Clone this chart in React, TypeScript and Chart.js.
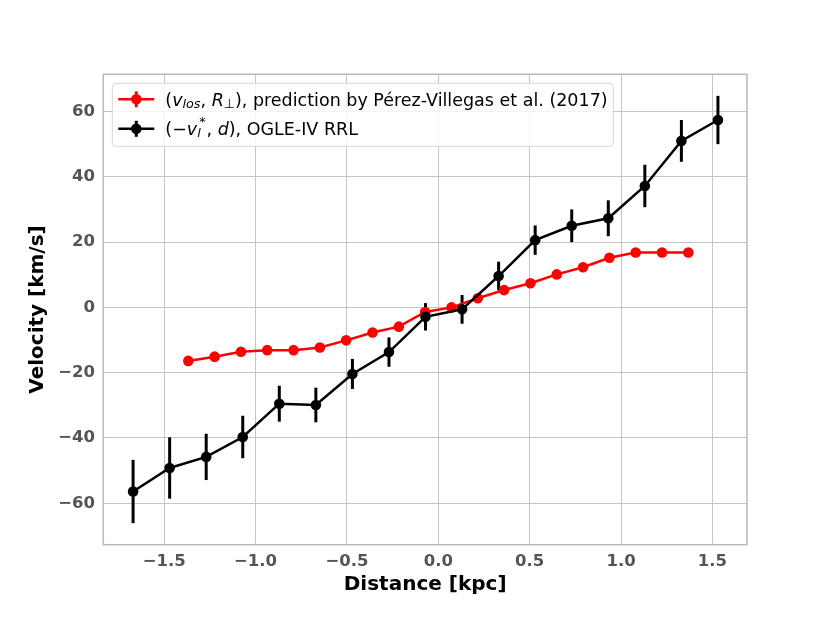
import { useEffect, useRef } from "react"
import { Chart, registerables, Plugin } from "chart.js"

Chart.register(...registerables)

// OGLE-IV RRL, (-v_l*, d)
const rrlDistance = [-1.67, -1.47, -1.27, -1.07, -0.87, -0.67, -0.47, -0.27, -0.07, 0.13, 0.33, 0.53, 0.73, 0.93, 1.13, 1.33, 1.53]
const rrlVelocity = [-56.4, -49.2, -45.8, -39.7, -29.5, -29.9, -20.4, -13.7, -2.9, -0.6, 9.6, 20.6, 25.0, 27.3, 37.2, 51.0, 57.4]
const rrlError = [9.7, 9.4, 7.1, 6.5, 5.5, 5.3, 4.6, 4.5, 4.2, 4.4, 4.4, 4.5, 5.0, 5.5, 6.5, 6.4, 7.4]

// Pérez-Villegas et al. (2017) prediction, (v_los, R_perp)
const modelDistance = [-1.368, -1.224, -1.08, -0.936, -0.792, -0.648, -0.504, -0.36, -0.216, -0.072, 0.072, 0.216, 0.36, 0.504, 0.648, 0.792, 0.936, 1.08, 1.224, 1.368]
const modelVelocity = [-16.4, -15.1, -13.6, -13.1, -13.1, -12.3, -10.1, -7.7, -5.9, -1.4, 0.0, 2.8, 5.3, 7.4, 10.1, 12.3, 15.2, 16.8, 16.8, 16.8]

const xRange = [-1.833, 1.689]
const yRange = [-72.7, 71.4]

const FONT = "'DejaVu Sans'"
const GRID = "#c4c4c4"

const minus = (s: string) => s.replace("-", "\u2212")

type Run = { t: string; italic?: boolean; size?: number; dy?: number; sup?: string; supDy?: number }

function drawRuns(ctx: CanvasRenderingContext2D, x: number, y: number, runs: Run[], base: number) {
  let cx = x
  for (const r of runs) {
    const size = r.size ?? base
    ctx.font = `${r.italic ? "italic " : ""}${size}px ${FONT}`
    ctx.fillText(r.t, cx, y + (r.dy ?? 0))
    let w = ctx.measureText(r.t).width
    if (r.sup) {
      ctx.font = `${size}px ${FONT}`
      ctx.fillText(r.sup, cx + 2, y + (r.supDy ?? -6))
      w = Math.max(w, ctx.measureText(r.sup).width + 3)
    }
    cx += w
  }
}

const legendRows: { color: string; runs: Run[] }[] = [
  {
    color: "#ff0000",
    runs: [
      { t: "(" },
      { t: "v", italic: true },
      { t: "los", italic: true, size: 12.8, dy: 2.5 },
      { t: ", " },
      { t: "R", italic: true },
      { t: "\u22a5", size: 12.8, dy: 2.5 },
      { t: ")" },
      { t: ", prediction by Pérez-Villegas et al. (2017)" },
    ],
  },
  {
    color: "#000000",
    runs: [
      { t: "(" },
      { t: "\u2212" },
      { t: "v", italic: true },
      { t: "l", italic: true, size: 12.8, dy: 2, sup: "*", supDy: -9 },
      { t: ", " },
      { t: "d", italic: true },
      { t: ")" },
      { t: ", OGLE-IV RRL" },
    ],
  },
]

const errorBars: Plugin<"line"> = {
  id: "errorBars",
  beforeDatasetsDraw(chart) {
    const { ctx, scales } = chart
    ctx.save()
    ctx.strokeStyle = "#000000"
    ctx.lineWidth = 3
    rrlDistance.forEach((d, i) => {
      const px = scales.x.getPixelForValue(d)
      ctx.beginPath()
      ctx.moveTo(px, scales.y.getPixelForValue(rrlVelocity[i] - rrlError[i]))
      ctx.lineTo(px, scales.y.getPixelForValue(rrlVelocity[i] + rrlError[i]))
      ctx.stroke()
    })
    ctx.restore()
  },
}

const frameAndLegend: Plugin<"line"> = {
  id: "frameAndLegend",
  afterDraw(chart) {
    const { ctx, chartArea: a } = chart
    ctx.save()
    ctx.strokeStyle = "#b8b8b8"
    ctx.lineWidth = 1.5
    ctx.strokeRect(a.left, a.top, a.right - a.left, a.bottom - a.top)

    // legend box
    const bx = a.left + 9
    const by = a.top + 9
    const bw = 501
    const bh = 63
    ctx.beginPath()
    ctx.roundRect(bx, by, bw, bh, 4)
    ctx.fillStyle = "rgba(255,255,255,0.8)"
    ctx.fill()
    ctx.strokeStyle = "#d6d6d6"
    ctx.lineWidth = 1
    ctx.stroke()

    legendRows.forEach((row, i) => {
      const cy = by + 16 + i * 29.5
      const hx = bx + 6
      ctx.strokeStyle = row.color
      ctx.fillStyle = row.color
      ctx.lineWidth = 2.5
      ctx.beginPath()
      ctx.moveTo(hx, cy)
      ctx.lineTo(hx + 36, cy)
      ctx.stroke()
      ctx.lineWidth = 3
      ctx.beginPath()
      ctx.moveTo(hx + 18, cy - 8)
      ctx.lineTo(hx + 18, cy + 8)
      ctx.stroke()
      ctx.beginPath()
      ctx.arc(hx + 18, cy, 5.3, 0, Math.PI * 2)
      ctx.fill()
      ctx.fillStyle = "#000000"
      ctx.textBaseline = "alphabetic"
      ctx.textAlign = "left"
      drawRuns(ctx, bx + 53, cy + 6.2, row.runs, 17.5)
    })
    ctx.restore()
  },
}

export default function App() {
  const canvasRef = useRef<HTMLCanvasElement>(null)

  useEffect(() => {
    document.body.style.margin = "0"
    if (!canvasRef.current) return
    const chart = new Chart(canvasRef.current, {
      type: "line",
      data: {
        datasets: [
          {
            label: "OGLE-IV RRL",
            data: rrlDistance.map((x, i) => ({ x, y: rrlVelocity[i] })),
            borderColor: "#000000",
            backgroundColor: "#000000",
            borderWidth: 2.5,
            pointRadius: 5.3,
            pointBorderWidth: 0,
          },
          {
            label: "Pérez-Villegas et al. (2017)",
            data: modelDistance.map((x, i) => ({ x, y: modelVelocity[i] })),
            borderColor: "#ff0000",
            backgroundColor: "#ff0000",
            borderWidth: 2.5,
            pointRadius: 5.3,
            pointBorderWidth: 0,
          },
        ],
      },
      options: {
        animation: false,
        responsive: true,
        maintainAspectRatio: false,
        layout: { padding: { top: 74.3, right: 83, left: 0, bottom: 0 } },
        plugins: { legend: { display: false }, tooltip: { enabled: false } },
        scales: {
          x: {
            type: "linear",
            min: xRange[0],
            max: xRange[1],
            afterFit: (s) => {
              s.height = 78.3
            },
            border: { display: false },
            grid: { color: GRID, lineWidth: 1, drawTicks: false },
            ticks: {
              stepSize: 0.5,
              includeBounds: false,
              padding: 7,
              color: "#555555",
              font: { family: FONT, size: 16.5, weight: "bold" },
              callback: (v) => minus(Number(v).toFixed(1)),
            },
            title: {
              display: true,
              text: "Distance [kpc]",
              color: "#000000",
              font: { family: FONT, size: 20, weight: "bold" },
              padding: { top: 0, bottom: 26.6 },
            },
          },
          y: {
            type: "linear",
            min: yRange[0],
            max: yRange[1],
            afterFit: (s) => {
              s.width = 103.3
            },
            border: { display: false },
            grid: { color: GRID, lineWidth: 1, drawTicks: false },
            ticks: {
              stepSize: 20,
              includeBounds: false,
              padding: 8.3,
              color: "#555555",
              font: { family: FONT, size: 16.5, weight: "bold" },
              callback: (v) => minus(String(Math.round(Number(v)))),
            },
            title: {
              display: true,
              text: "Velocity [km/s]",
              color: "#000000",
              font: { family: FONT, size: 20, weight: "bold" },
              padding: { top: 25.7, bottom: 0 },
            },
          },
        },
      },
      plugins: [errorBars, frameAndLegend],
    })
    return () => chart.destroy()
  }, [])

  return (
    <div style={{ width: 830, height: 623, position: "relative" }}>
      <canvas ref={canvasRef} />
    </div>
  )
}
